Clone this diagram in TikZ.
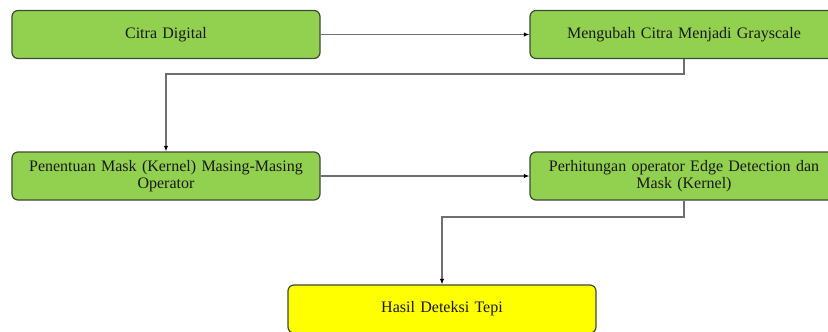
\documentclass[tikz,border=0pt]{standalone}
\usepackage{fontspec}
\setmainfont{Liberation Serif}
\usetikzlibrary{arrows.meta}
\definecolor{boxgreen}{HTML}{92D050}
\definecolor{boxyellow}{HTML}{FFFF00}
\definecolor{boxedge}{HTML}{3E4A34}
\definecolor{linegray}{HTML}{707070}
\tikzset{
  procbox/.style={draw=boxedge, line width=1.2bp, rounded corners=6bp, fill=boxgreen,
    minimum width=308bp, minimum height=48bp, align=center, text width=300bp,
    inner sep=0pt, font=\fontsize{16bp}{17.5bp}\selectfont, text=black!90},
  endbox/.style={procbox, fill=boxyellow},
  conn/.style={draw=linegray, line width=1.3bp, -{Latex[length=5.5bp,width=4.5bp,color=black]}}
}
\begin{document}
\begin{tikzpicture}[x=1bp,y=-1bp]
\clip (0,0) rectangle (828,331);
\fill[white] (0,0) rectangle (828,331);
\node[procbox] (b1) at (166,34.5) {Citra Digital};
\node[procbox] (b2) at (684,34.5) {Mengubah Citra Menjadi Grayscale};
\node[procbox] (b3) at (166,176) {Penentuan Mask (Kernel) Masing-Masing\\Operator};
\node[procbox] (b4) at (684,176) {Perhitungan operator Edge Detection dan\\Mask (Kernel)};
\node[endbox] (b5) at (442,309) {Hasil Deteksi Tepi};
\coordinate (k1) at (684,74);
\coordinate (k2) at (684,217);
\draw[conn] (b1.east) -- (b2.west);
\draw[conn] (b2.south) -- (k1) -| (b3.north);
\draw[conn] (b3.east) -- (b4.west);
\draw[conn] (b4.south) -- (k2) -| (b5.north);
\end{tikzpicture}
\end{document}
